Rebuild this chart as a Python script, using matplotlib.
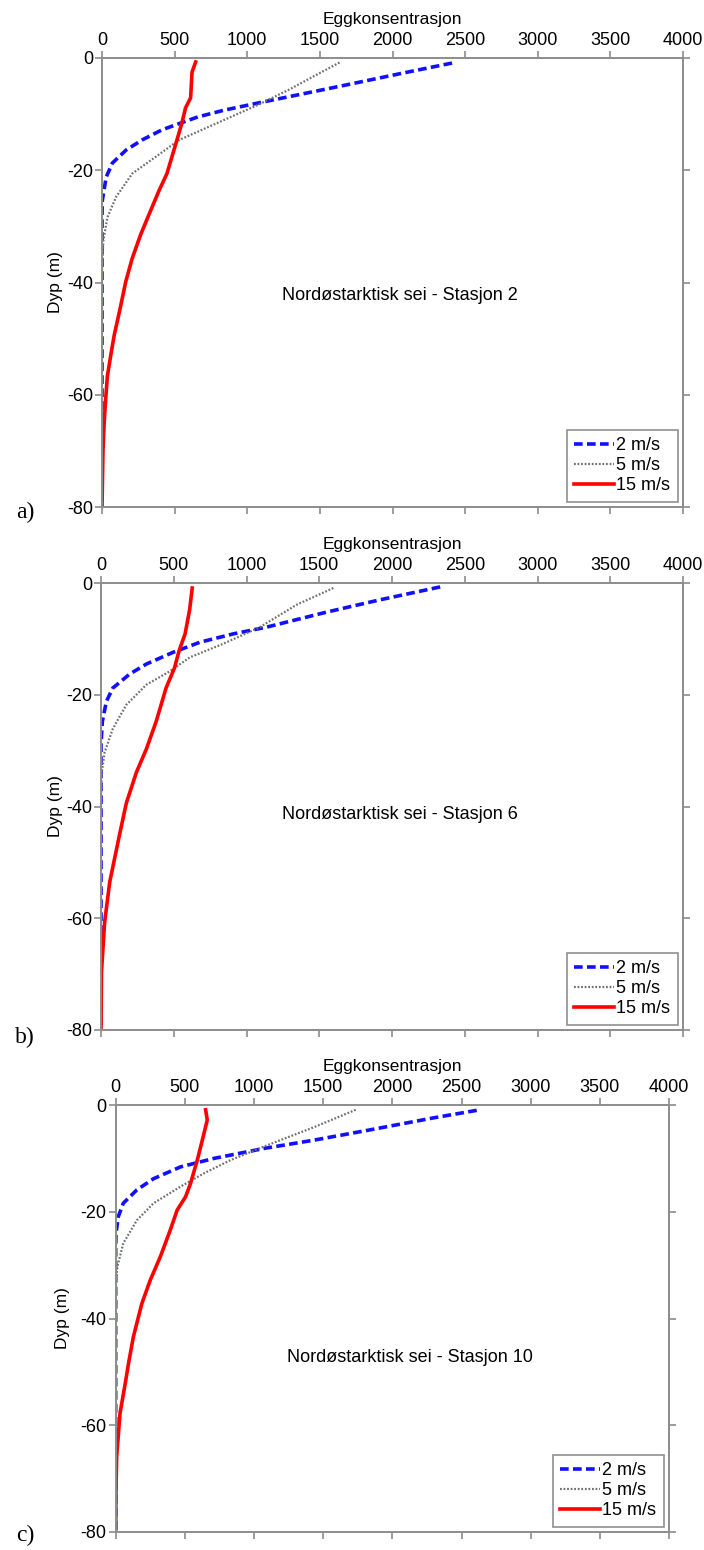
import matplotlib
matplotlib.use("Agg")
import matplotlib.pyplot as plt

# ---------------- data ----------------
series_labels = ["2 m/s", "5 m/s", "15 m/s"]
panel_letters = ["a)", "b)", "c)"]
station_texts = ["Nordøstarktisk sei - Stasjon 2",
                 "Nordøstarktisk sei - Stasjon 6",
                 "Nordøstarktisk sei - Stasjon 10"]
x_ticks = [0, 500, 1000, 1500, 2000, 2500, 3000, 3500, 4000]
y_ticks = [0, -20, -40, -60, -80]

# Panel a (Stasjon 2)
blue_a_depth = [-0.9, -2.8, -4.7, -6.4, -8.0, -9.3, -10.5, -11.5, -12.8, -14.6, -16.4, -18.7, -21.2, -25.4, -28, -80]
blue_a_conc = [2410, 2050, 1700, 1380, 1078, 840, 660, 551, 413, 276, 166, 72, 29, 2, 0, 0]
gray_a_depth = [-0.8, -5.6, -8.3, -12.2, -14.6, -17.6, -20.6, -24.8, -28.4, -32.6, -38, -80]
gray_a_conc = [1635, 1290, 1078, 740, 531, 370, 208, 96, 37, 9, 0, 0]
red_a_depth = [-0.7, -2.5, -7.1, -8.9, -11.5, -14.6, -20.6, -23.6, -27.8, -31.4, -35.7, -39.8, -44.6,
               -49.4, -53, -56.7, -60.9, -65, -69.8, -80]
red_a_conc = [645, 620, 610, 575, 551, 516, 447, 393, 325, 267, 208, 164, 125, 84, 60, 37, 25, 15, 7, 0]

# Panel b (Stasjon 6)
blue_b_depth = [-0.7, -3.0, -5.2, -7.9, -9.1, -10.6, -12.4, -14.5, -16.3, -18.8, -21.2, -24.8, -29, -80]
blue_b_conc = [2331, 1919, 1552, 1138, 910, 680, 496, 312, 197, 81, 37, 9, 0, 0]
gray_b_depth = [-0.9, -3.9, -7.9, -10.9, -13.3, -15.8, -18.2, -21.8, -26.1, -30.3, -33.9, -38, -80]
gray_b_conc = [1597, 1344, 1092, 838, 611, 473, 312, 174, 81, 25, 5, 0, 0]
red_b_depth = [-0.9, -4.8, -9.1, -12.1, -15.2, -18.8, -24.8, -29.7, -33.9, -39.4, -44.6, -53.5,
               -60.7, -69.7, -80]
red_b_conc = [627, 609, 578, 537, 505, 447, 379, 312, 243, 174, 131, 60, 25, 3, 0]

# Panel c (Stasjon 10)
blue_c_depth = [-1.0, -2.4, -4.7, -6.6, -8.1, -10.0, -11.6, -13.8, -15.9, -18.4, -20.9, -24.1, -27, -80]
blue_c_conc = [2610, 2300, 1830, 1430, 1080, 711, 468, 274, 153, 55, 19, 2, 0, 0]
gray_c_depth = [-0.9, -4.1, -7.5, -10.3, -12.8, -15.3, -18.4, -21.6, -25.9, -30.3, -34, -80]
gray_c_conc = [1735, 1439, 1099, 832, 638, 468, 274, 153, 55, 12, 0, 0]
red_c_depth = [-0.9, -2.8, -6.6, -10.3, -14.7, -17.2, -19.7, -23.4, -28.4, -32.8, -37.2, -43.4,
               -48.5, -52, -57.8, -65.9, -72, -80]
red_c_conc = [650, 662, 626, 590, 541, 505, 444, 395, 323, 250, 189, 128, 92, 70, 31, 7, 2, 0]

panels = [
    [(blue_a_conc, blue_a_depth), (gray_a_conc, gray_a_depth), (red_a_conc, red_a_depth)],
    [(blue_b_conc, blue_b_depth), (gray_b_conc, gray_b_depth), (red_b_conc, red_b_depth)],
    [(blue_c_conc, blue_c_depth), (gray_c_conc, gray_c_depth), (red_c_conc, red_c_depth)],
]
text_pos = [(2050, -42.3), (2055, -41.4), (2130, -47.3)]

# ---------------- styling ----------------
W, H = 704, 1550
plt.rcParams['font.family'] = ['Liberation Sans', 'DejaVu Sans']
plt.rcParams['axes.unicode_minus'] = False
fig = plt.figure(figsize=(W / 100, H / 100), dpi=100)

# axes rectangles in pixels: left, right, top, bottom
rects_px = [(102, 683, 58, 507), (101, 683, 583, 1030), (115.7, 669, 1105, 1532)]
letter_px = [(25, 512), (25, 1037), (25, 1535)]
ylabel_x_px = [63, 63, 70]

styles = [
    dict(color='#1010ff', lw=2.6, linestyle=(0, (2.4, 1.2))),
    dict(color='#707070', lw=1.6, linestyle=(0, (0.8, 0.8))),
    dict(color='#ff0000', lw=2.6, linestyle='-'),
]
spine_col = '#8c8c8c'

for i, (l, r, t, b) in enumerate(rects_px):
    ax = fig.add_axes([l / W, 1 - b / H, (r - l) / W, (b - t) / H])
    for (xc, yd), st, lab in zip(panels[i], styles, series_labels):
        ax.plot(xc, yd, label=lab, **st)
    ax.set_xlim(0, 4000)
    ax.set_ylim(-80, 0)
    ax.set_xticks(x_ticks)
    ax.set_yticks(y_ticks)
    ax.xaxis.tick_top()
    ax.xaxis.set_label_position('top')
    ax.tick_params(axis='both', which='both', direction='out', length=5, width=1.2,
                   color=spine_col, labelsize=13, pad=1.5,
                   top=True, bottom=True, left=True, right=True,
                   labeltop=True, labelbottom=False, labelleft=True, labelright=False)
    for sp in ax.spines.values():
        sp.set_color(spine_col)
        sp.set_linewidth(1.4)
    ax.set_xlabel("Eggkonsentrasjon", fontsize=12.5, labelpad=6)
    ax.set_ylabel("Dyp (m)", fontsize=12.5)
    ax.yaxis.set_label_coords((ylabel_x_px[i] - l) / (r - l), 0.5)
    ax.text(text_pos[i][0], text_pos[i][1], station_texts[i], fontsize=13,
            ha='center', va='center')
    leg = ax.legend(loc='lower right', fontsize=13, handlelength=2.2, handletextpad=0.15,
                    labelspacing=0.18, borderpad=0.4, borderaxespad=0.3,
                    fancybox=False, framealpha=1)
    leg.get_frame().set_edgecolor('#909090')
    leg.get_frame().set_linewidth(1.2)
    fig.text(letter_px[i][0] / W, 1 - letter_px[i][1] / H, panel_letters[i],
             fontsize=17, family='Liberation Serif', ha='center', va='center')

fig.savefig("out.png", dpi=100)
